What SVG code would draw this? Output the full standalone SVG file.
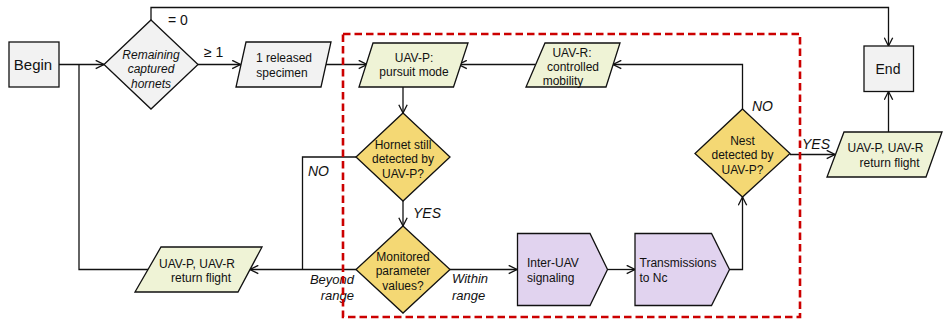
<svg xmlns="http://www.w3.org/2000/svg" width="943" height="322" viewBox="0 0 943 322">
<defs>
<marker id="arr" viewBox="0 0 10 10" markerWidth="10" markerHeight="10" refX="9.3" refY="5" orient="auto" markerUnits="userSpaceOnUse">
<path d="M1,0.8 L9.3,5 L1,9.2" fill="none" stroke="#111" stroke-width="1.3"/>
</marker>
<style>
.t{font-family:"Liberation Sans",Arial,sans-serif;font-size:12px;fill:#111}
.c{text-anchor:middle}
.i{font-style:italic}
.lbl{font-family:"Liberation Sans",Arial,sans-serif;font-size:14px;fill:#111}
.grey{fill:#f2f2f2;stroke:#111;stroke-width:1.3}
.green{fill:#eff3d6;stroke:#111;stroke-width:1.3}
.yellow{fill:#f4d874;stroke:#111;stroke-width:1.3}
.purple{fill:#e1d3ef;stroke:#111;stroke-width:1.3}
.ln{fill:none;stroke:#111;stroke-width:1.3}
</style>
</defs>
<rect width="943" height="322" fill="#fff"/>
<g id="connectors">
<path class="ln" d="M59,64.5 H104" marker-end="url(#arr)"/>
<path class="ln" d="M148,269.5 H79 V64.5"/>
<path class="ln" d="M151,20 V7.5 H888.5 V46" marker-end="url(#arr)"/>
<path class="ln" d="M198,64.5 H240.5" marker-end="url(#arr)"/>
<path class="ln" d="M326,64.5 H367" marker-end="url(#arr)"/>
<path class="ln" d="M535.5,64.5 H458.5" marker-end="url(#arr)"/>
<path class="ln" d="M742.5,109 V64.5 H613" marker-end="url(#arr)"/>
<path class="ln" d="M403,87 V113" marker-end="url(#arr)"/>
<path class="ln" d="M403,201 V226" marker-end="url(#arr)"/>
<path class="ln" d="M356,157 H302.5 V269.5"/>
<path class="ln" d="M356,269.5 H250" marker-end="url(#arr)"/>
<path class="ln" d="M450,269.5 H517" marker-end="url(#arr)"/>
<path class="ln" d="M607.5,269.5 H635" marker-end="url(#arr)"/>
<path class="ln" d="M729.5,269.5 H742.5 V197" marker-end="url(#arr)"/>
<path class="ln" d="M790,154.5 H835" marker-end="url(#arr)"/>
<path class="ln" d="M888.5,132 V91.5" marker-end="url(#arr)"/>
<text class="lbl" x="168" y="25">= 0</text>
<text class="lbl" x="204" y="57">≥ 1</text>
<text class="lbl i" x="752" y="111">NO</text>
<text class="lbl i" x="802" y="149">YES</text>
<text class="lbl i" x="413" y="218">YES</text>
<text class="lbl i" x="308" y="176">NO</text>
<text class="lbl i" x="354" y="284" style="font-size:13px;text-anchor:end">Beyond</text>
<text class="lbl i" x="354" y="300" style="font-size:13px;text-anchor:end">range</text>
<text class="lbl i" x="452" y="282.5" style="font-size:13px">Within</text>
<text class="lbl i" x="452" y="300" style="font-size:13px">range</text>
</g>
<g id="begin">
<rect class="grey" x="9" y="42" width="50" height="45"/>
<text class="t c" x="33" y="70" style="font-size:15px">Begin</text>
</g>
<g id="remaining">
<polygon class="grey" points="151,20 198,64.5 151,109 104,64.5"/>
<text class="t c i" x="151" y="58.5">Remaining</text>
<text class="t c i" x="151" y="73">captured</text>
<text class="t c i" x="151" y="87.5">hornets</text>
</g>
<g id="released">
<polygon class="green" points="246,42 331,42 321,87 236,87" style="fill:#f2f2f2"/>
<text class="t c" x="284" y="62">1 released</text>
<text class="t c" x="282" y="77">specimen</text>
</g>
<g id="uavp-pursuit">
<polygon class="green" points="373,43 468,43 453.5,87 359,87"/>
<text class="t c" x="414" y="62">UAV-P:</text>
<text class="t c" x="414" y="76">pursuit mode</text>
</g>
<g id="uavr-mobility">
<polygon class="green" points="545,43 620,43 606,87 526,87"/>
<text class="t c" x="572" y="56.5">UAV-R:</text>
<text class="t c" x="573" y="71">controlled</text>
<text class="t c" x="563" y="84.5">mobility</text>
</g>
<g id="hornet-detected">
<polygon class="yellow" points="403,113 450,157 403,201 356,157"/>
<text class="t c" x="403" y="148.5">Hornet still</text>
<text class="t c" x="403" y="163">detected by</text>
<text class="t c" x="403" y="177.5">UAV-P?</text>
</g>
<g id="monitored">
<polygon class="yellow" points="403,226 450,269.5 403,313 356,269.5"/>
<text class="t c" x="403" y="260.5">Monitored</text>
<text class="t c" x="403" y="275">parameter</text>
<text class="t c" x="403" y="289.5">values?</text>
</g>
<g id="return-left">
<polygon class="green" points="161,247 262,247 238,292 135,292"/>
<text class="t c" x="197" y="267.5">UAV-P, UAV-R</text>
<text class="t c" x="201" y="281.5">return flight</text>
</g>
<g id="inter-uav">
<polygon class="purple" points="517.5,233.5 590,233.5 607.5,269.5 590,305.5 517.5,305.5"/>
<text class="t" x="527" y="266.5">Inter-UAV</text>
<text class="t" x="527" y="281.5">signaling</text>
</g>
<g id="transmissions">
<polygon class="purple" points="635,233.5 711.5,233.5 729.5,269.5 711.5,305.5 635,305.5"/>
<text class="t" x="639.5" y="266.5">Transmissions</text>
<text class="t" x="639.5" y="282">to Nc</text>
</g>
<g id="nest">
<polygon class="yellow" points="742.5,109 790,153.5 742.5,197 695,153.5"/>
<text class="t c" x="742.5" y="144.5">Nest</text>
<text class="t c" x="742.5" y="159">detected by</text>
<text class="t c" x="742.5" y="173.5">UAV-P?</text>
</g>
<g id="return-right">
<polygon class="green" points="844,132 942,132 926,177 827,177"/>
<text class="t c" x="885.5" y="152">UAV-P, UAV-R</text>
<text class="t c" x="889.5" y="167">return flight</text>
</g>
<g id="end">
<rect class="grey" x="864" y="46" width="49.5" height="45.5"/>
<text class="t c" x="888" y="74" style="font-size:14px">End</text>
</g>
<rect x="343" y="34" width="457" height="283" fill="none" stroke="#cc0000" stroke-width="2.6" stroke-dasharray="7.5 4"/>
</svg>
